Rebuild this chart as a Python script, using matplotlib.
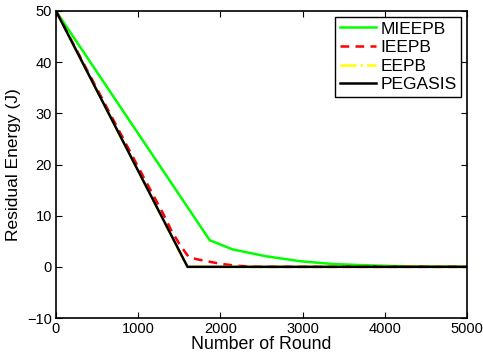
import numpy as np
import matplotlib
matplotlib.use('Agg')
import matplotlib.pyplot as plt

plt.rcParams['font.family'] = ['Liberation Sans', 'DejaVu Sans']

# data
x_mieepb = [0, 1870, 2150, 2560, 2970, 3370, 3780, 4200, 4600, 5000]
y_mieepb = [50, 5.2, 3.4, 2.05, 1.1, 0.55, 0.3, 0.12, 0.05, 0.02]

x_ieepb = [0, 1000, 1300, 1400, 1500, 1610, 1710, 1800, 2000, 2200, 2500, 5000]
y_ieepb = [50, 19.5, 10.5, 7.2, 4.5, 2.0, 1.5, 1.2, 0.6, 0.2, 0.0, 0.0]

x_eepb = [0, 1590, 1600, 5000]
y_eepb = [50, 0.2, 0, 0]

x_pegasis = [0, 1600, 5000]
y_pegasis = [50, 0, 0]

fig = plt.figure(figsize=(4.83, 3.53), dpi=100)
ax = fig.add_axes([56/483, 35/353, 411/483, 307/353])

ax.plot(x_mieepb, y_mieepb, color='#00ff00', lw=1.8, label='MIEEPB')
ax.plot(x_ieepb, y_ieepb, color='#ff0000', lw=1.8, ls=(0, (3.5, 2.5)), label='IEEPB')
ax.plot(x_eepb, y_eepb, color='#ffff00', lw=1.8, ls='-.', label='EEPB')
ax.plot(x_pegasis, y_pegasis, color='black', lw=1.8, label='PEGASIS')

ax.set_xlim(0, 5000)
ax.set_ylim(-10, 50)
ax.set_xticks(np.arange(0, 5001, 1000))
ax.set_yticks(np.arange(-10, 51, 10))
ax.tick_params(direction='in', top=True, right=True, labelsize=10.5, length=4, pad=3)
for s in ax.spines.values():
    s.set_linewidth(1.2)

ax.set_xlabel('Number of Round', fontsize=12.8, labelpad=0)
ax.set_ylabel('Residual Energy (J)', fontsize=12.5, labelpad=4)

leg = ax.legend(loc='upper right', fontsize=12.5, fancybox=False, framealpha=1,
                edgecolor='black', borderaxespad=0.35, handlelength=2.1,
                handletextpad=0.25, labelspacing=0.2, borderpad=0.25)
leg.get_frame().set_linewidth(1.0)

fig.savefig('out.png', dpi=100)
